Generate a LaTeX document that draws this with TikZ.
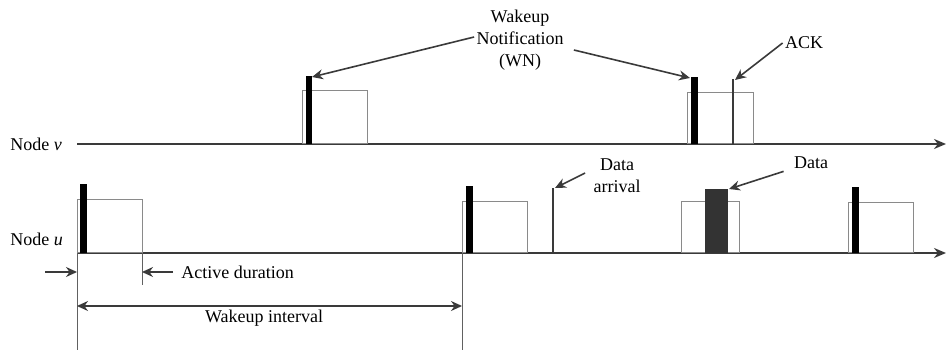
\documentclass[tikz,border=0pt]{standalone}
\usepackage{fontspec}
\setmainfont{Liberation Serif}
\usetikzlibrary{arrows.meta, positioning, calc}

\begin{document}
\begin{tikzpicture}[x=0.5pt, y=-0.5pt, font=\fontsize{9}{11}\selectfont]
% --- DIAGRAMA DE TEMPO: NO v E NO u ---
\definecolor{eixo}{HTML}{3A3A3A}
\definecolor{caixa}{HTML}{8A8A8A}
\definecolor{dado}{HTML}{333333}
\tikzset{
  seta/.style={-{Stealth[length=5.5pt, width=5pt]}, draw=eixo, line width=0.8pt},
  guia/.style={draw=eixo!80, line width=0.4pt},
  janela/.style={draw=caixa, line width=0.5pt},
}
\useasboundingbox (0,0) rectangle (947,352);

% LAYER 1: Eixos de tempo
\node[anchor=west, inner sep=0pt] (rotv) at (10,144) {Node \textit{v}};
\node[anchor=west, inner sep=0pt] (rotu) at (10,239) {Node \textit{u}};
\coordinate (iniv) at (77,144);
\coordinate (fimv) at (946,144);
\coordinate (iniu) at (77,253);
\coordinate (fimu) at (946,253);
\draw[eixo, line width=1pt, -{Stealth[length=6pt, width=5pt]}] (iniv) -- (fimv);
\draw[eixo, line width=1pt, -{Stealth[length=6pt, width=5pt]}] (iniu) -- (fimu);

% LAYER 2: Janelas ativas do no v
\draw[janela] (302,144) rectangle (367,91);
\draw[janela] (687,144) rectangle (753,93);
\draw[fill=black, draw=none] (306,144) rectangle (312,76);
\draw[fill=black, draw=none] (691,144) rectangle (698,77);
\draw[eixo, line width=1pt] (733,144) -- (733,79);
\coordinate (wn1) at (312,77);
\coordinate (wn2) at (690,78);
\coordinate (ack) at (735,80);

% LAYER 3: Janelas ativas do no u
\draw[janela] (77,253) rectangle (142,200);
\draw[janela] (462,253) rectangle (527,202);
\draw[janela] (681,253) rectangle (739,202);
\draw[janela] (848,253) rectangle (913,203);
\foreach \xa/\ya in {80/184, 466/186, 852/187}
  \draw[fill=black, draw=none] (\xa,253) rectangle (\xa+6.5,\ya);
\draw[eixo, line width=1pt] (553,253) -- (553,188);
\draw[fill=dado, draw=none] (705,253) rectangle (728,189);
\coordinate (chegada) at (555,188);
\coordinate (pacote) at (729,189);

% LAYER 4: Rotulos e setas
\node[align=center, inner sep=1pt] (notif) at (520,40) {Wakeup\\Notification\\(WN)};
\node[inner sep=1pt] (rotack) at (804,43) {ACK};
\node[align=center, inner sep=1pt] (rotcheg) at (617,176) {Data\\arrival};
\node[inner sep=1pt] (rotdado) at (811,163) {Data};
\draw[seta] ($(notif.west)+(0,-3)$) -- (wn1);
\draw[seta] ($(notif.east)+(8,10)$) -- (wn2);
\draw[seta] (rotack.west) -- (ack);
\draw[seta] ($(rotcheg.west)+(-6,-3)$) -- (chegada);
\draw[seta] ($(rotdado.south west)+(-8,0)$) -- (pacote);

% LAYER 5: Cotas de duracao
\draw[guia] (77,253) -- (77,350);
\draw[guia] (142,253) -- (142,285);
\draw[guia] (462,253) -- (462,350);
\node[anchor=west, inner sep=0pt] (ativo) at (181,272) {Active duration};
\coordinate (ativoA) at (45,272);
\coordinate (ativoB) at (77,272);
\coordinate (ativoC) at (142,272);
\draw[seta] (ativoA) -- (ativoB);
\draw[seta] ($(ativo.west)+(-8,0)$) -- (ativoC);
\coordinate (interA) at (77,306);
\coordinate (interB) at (462,306);
\draw[seta, {Stealth[length=5.5pt, width=5pt]}-{Stealth[length=5.5pt, width=5pt]}] (interA) -- (interB);
\node[inner sep=0pt] (inter) at (264,318) {Wakeup interval};
\end{tikzpicture}
\end{document}
